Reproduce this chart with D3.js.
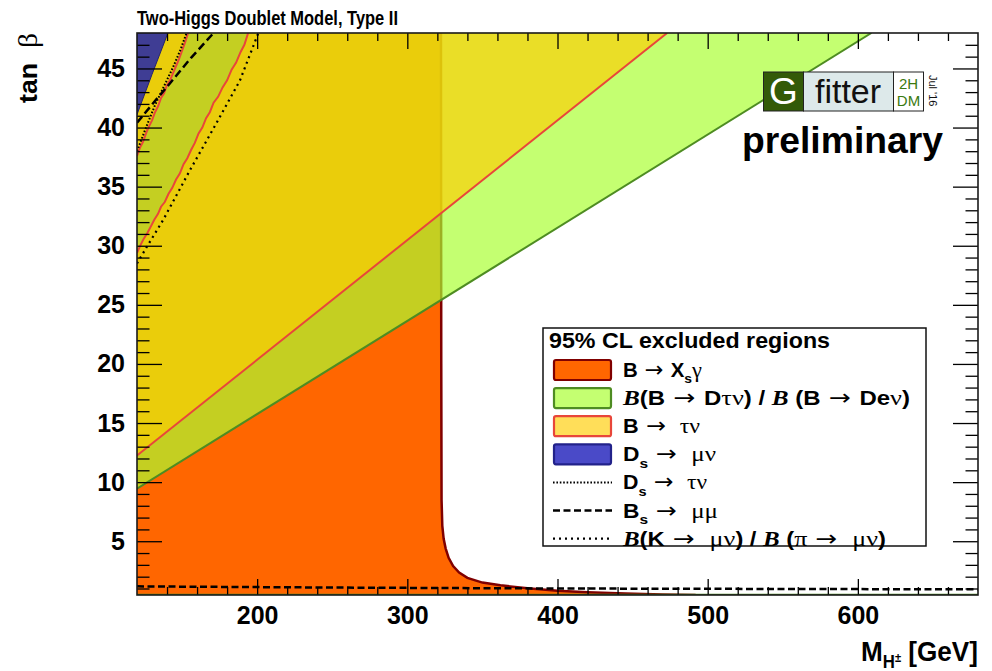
<!DOCTYPE html>
<html>
<head>
<meta charset="utf-8">
<script src="https://cdn.jsdelivr.net/npm/d3@7/dist/d3.min.js"></script>
<style>
  html, body { margin: 0; padding: 0; background: #fff; }
  svg { display: block; }
  text { white-space: pre; }
</style>
</head>
<body>
<svg id="chart" width="992" height="671"></svg>
<script>
// ---------------- data ----------------
// axis ticks
const xMajorTicks = [200, 300, 400, 500, 600];
const yMajorTicks = [5, 10, 15, 20, 25, 30, 35, 40, 45];

// B -> Xs gamma: excluded for M below this boundary (charged Higgs mass in GeV, tan beta)
const bsgMass = [322.4, 322.6, 322.8, 323.3, 324.2, 325.5, 327.5, 330.5, 334.5, 340, 350, 362, 380, 400, 420, 445, 470, 492];
const bsgTanb = [48, 20, 8.5, 6.3, 5.2, 4.4, 3.6, 2.9, 2.35, 1.9, 1.5, 1.27, 1.02, 0.8, 0.68, 0.58, 0.5, 0.45];

// B(B -> D tau nu) / B(B -> D e nu): excluded above this line, and below the low-tan beta edge
const bdtnMass = [120, 609];
const bdtnTanb = [9.45, 48];
const bdtnLowMass = [120, 680];
const bdtnLowTanb = [0.5, 0.5];

// B -> tau nu: excluded above the straight edge, except the strip between the two wavy edges
const btnLowMass = [120, 473];
const btnLowTanb = [12.25, 48];
const btnStripLeftMass = [120, 122, 124, 126, 128, 130, 132, 134, 136, 138, 140, 142, 144, 146, 148, 150, 152, 154];
const btnStripLeftTanb = [37.6, 38.3, 38.8, 39.5, 40.1, 40.6, 41.3, 41.8, 42.5, 42.9, 43.6, 44.0, 44.6, 45.2, 45.8, 46.5, 47.2, 48];
const btnStripRightMass = [120, 122.5, 124.5, 127, 129.5, 131.5, 134, 136, 138.5, 141, 143.5, 146, 148.5, 151, 153.5, 156, 158.5, 161, 163.5, 166, 168.5, 171, 174, 177, 180, 183, 186, 189, 191.5, 194];
const btnStripRightTanb = [29.4, 30.1, 30.6, 31.1, 31.7, 32.2, 32.7, 33.3, 33.7, 34.4, 34.9, 35.6, 36.1, 36.9, 37.4, 38.1, 38.7, 39.5, 40.0, 40.8, 41.3, 42.1, 42.6, 43.4, 44.0, 44.9, 45.5, 46.4, 47.0, 48];

// Ds -> mu nu: excluded above this edge
const dsmnMass = [120, 130, 140.6];
const dsmnTanb = [41.1, 44.5, 48];

// Ds -> tau nu edge
const dstnMass = [120, 126, 132, 138, 144, 149, 153];
const dstnTanb = [38.0, 40.0, 41.9, 43.5, 45.1, 46.6, 48];

// Bs -> mu mu edges (high and low tan beta)
const bsmmHighMass = [120, 131, 142, 156, 171];
const bsmmHighTanb = [40.4, 42.1, 43.75, 45.9, 48];
const bsmmLowMass = [120, 250, 400, 550, 680];
const bsmmLowTanb = [1.18, 1.08, 1.0, 0.96, 0.93];

// B(K -> mu nu) / B(pi -> mu nu) edge
const kmnMass = [120, 126.5, 137.5, 155.3, 173, 188.6, 200.8];
const kmnTanb = [28.5, 29.9, 32.2, 36.4, 40.4, 44.0, 48];

// text
const titleText = "Two-Higgs Doublet Model, Type II";
const legendHeader = "95% CL excluded regions";
const ARROW = {t: " \u2192 ", f: "arrow"};
const legendLabels = [
  [{t: "B"}, ARROW, {t: "X"}, {t: "s", sub: true}, {t: "\u03b3", f: "serif"}],
  [{t: "B", f: "bi"}, {t: "(B"}, ARROW, {t: "D"}, {t: "\u03c4\u03bd", f: "serif"}, {t: ") / "}, {t: "B", f: "bi"}, {t: " (B"}, ARROW, {t: "De"}, {t: "\u03bd", f: "serif"}, {t: ")"}],
  [{t: "B"}, ARROW, {t: " \u03c4\u03bd", f: "serif"}],
  [{t: "D"}, {t: "s", sub: true}, ARROW, {t: " \u03bc\u03bd", f: "serif"}],
  [{t: "D"}, {t: "s", sub: true}, ARROW, {t: " \u03c4\u03bd", f: "serif"}],
  [{t: "B"}, {t: "s", sub: true}, ARROW, {t: " \u03bc\u03bc", f: "serif"}],
  [{t: "B", f: "bi"}, {t: "(K"}, ARROW, {t: " \u03bc\u03bd", f: "serif"}, {t: ") / "}, {t: "B", f: "bi"}, {t: " ("}, {t: "\u03c0", f: "serif"}, ARROW, {t: " \u03bc\u03bd", f: "serif"}, {t: ")"}]
];

// ---------------- drawing ----------------
const SANS = "'Liberation Sans', Arial, Helvetica, sans-serif";
const SERIF = "'Liberation Serif', 'Times New Roman', 'DejaVu Serif', serif";
const ARROWFONT = "'DejaVu Sans', sans-serif";

const COL = {
  orange: "#ff6600", orangeEdge: "#800000",
  green: "rgb(170,255,49)", greenOpacity: 0.69, greenEdge: "#4e8c22",
  yellow: "rgb(255,204,0)", yellowOpacity: 0.65, redEdge: "#e8463a",
  blue: "#3f3d94", blueEdge: "#25236e", blueKey: "#4a4ac8"
};

const svg = d3.select("#chart");
const x = d3.scaleLinear().domain([120, 680]).range([137, 978]);
const y = d3.scaleLinear().domain([0.45, 48]).range([595, 33]);
const [x0, x1] = x.range();
const [yB, yT] = y.range();
const [mMin, mMax] = x.domain();
const [tMin, tMax] = y.domain();

const zipPts = (ms, ts) => ms.map((m, i) => [m, ts[i]]);
const line = d3.line().x(d => x(d[0])).y(d => y(d[1]));

svg.append("defs").append("clipPath").attr("id", "plotclip")
  .append("rect").attr("x", x0).attr("y", yT).attr("width", x1 - x0).attr("height", yB - yT);
const plot = svg.append("g").attr("clip-path", "url(#plotclip)");

// B -> Xs gamma region
const bsgPts = zipPts(bsgMass, bsgTanb);
plot.append("path").attr("d", line([[mMin, tMin], [mMin, tMax], ...bsgPts]) + "Z").attr("fill", COL.orange);
plot.append("path").attr("d", line(bsgPts)).attr("fill", "none")
  .attr("stroke", COL.orangeEdge).attr("stroke-width", 2.5);

// B -> D tau nu region
const bdtnPts = zipPts(bdtnMass, bdtnTanb);
plot.append("path").attr("d", line([...bdtnPts, [mMin, tMax]]) + "Z")
  .attr("fill", COL.green).attr("fill-opacity", COL.greenOpacity);
plot.append("path").attr("d", line(bdtnPts)).attr("fill", "none")
  .attr("stroke", COL.greenEdge).attr("stroke-width", 2);
plot.append("path").attr("d", line(zipPts(bdtnLowMass, bdtnLowTanb))).attr("fill", "none")
  .attr("stroke", COL.greenEdge).attr("stroke-width", 1.5);

// B -> tau nu region (two pieces around the allowed strip)
const btnLow = zipPts(btnLowMass, btnLowTanb);
const stripL = zipPts(btnStripLeftMass, btnStripLeftTanb);
const stripR = zipPts(btnStripRightMass, btnStripRightTanb);
const yellowD = line([...stripR, ...btnLow.slice().reverse()]) + "Z" + line([...stripL, [mMin, tMax]]) + "Z";
plot.append("path").attr("d", yellowD).attr("fill", COL.yellow).attr("fill-opacity", COL.yellowOpacity);
[btnLow, stripL, stripR].forEach(p => plot.append("path").attr("d", line(p)).attr("fill", "none")
  .attr("stroke", COL.redEdge).attr("stroke-width", 2));

// Ds -> mu nu region
const dsmnPts = zipPts(dsmnMass, dsmnTanb);
plot.append("path").attr("d", line([...dsmnPts, [mMin, tMax]]) + "Z")
  .attr("fill", COL.blue).attr("stroke", COL.blueEdge).attr("stroke-width", 1);

// contour lines
plot.append("path").attr("d", line(zipPts(dstnMass, dstnTanb))).attr("fill", "none")
  .attr("stroke", "#000").attr("stroke-width", 2).attr("stroke-dasharray", "1.6,1.8");
plot.append("path").attr("d", line(zipPts(bsmmHighMass, bsmmHighTanb))).attr("fill", "none")
  .attr("stroke", "#000").attr("stroke-width", 2.5).attr("stroke-dasharray", "8,4");
plot.append("path").attr("d", line(zipPts(bsmmLowMass, bsmmLowTanb))).attr("fill", "none")
  .attr("stroke", "#000").attr("stroke-width", 2.5).attr("stroke-dasharray", "7,3.5");
plot.append("path").attr("d", line(zipPts(kmnMass, kmnTanb))).attr("fill", "none")
  .attr("stroke", "#000").attr("stroke-width", 2.2).attr("stroke-dasharray", "2,4");

// ---------------- axes ----------------
const xMinorTicks = d3.range(140, 680, 20).filter(v => !xMajorTicks.includes(v));
const yMinorTicks = d3.range(1, 48).filter(v => !yMajorTicks.includes(v));

function styleAxis(g) {
  g.select(".domain").remove();
  g.selectAll("line").attr("stroke", "#000").attr("stroke-width", 1.3);
  g.selectAll("text").attr("font-family", SANS).attr("font-weight", "bold")
    .attr("font-size", 25).attr("fill", "#000");
}
const axG = svg.append("g");
axG.append("g").attr("transform", `translate(0,${yB})`)
  .call(d3.axisBottom(x).tickValues(xMajorTicks).tickSizeInner(-16).tickSizeOuter(0).tickPadding(11))
  .call(styleAxis);
axG.append("g").attr("transform", `translate(0,${yB})`)
  .call(d3.axisBottom(x).tickValues(xMinorTicks).tickSize(-8).tickFormat(""))
  .call(styleAxis);
axG.append("g").attr("transform", `translate(0,${yT})`)
  .call(d3.axisTop(x).tickValues(xMajorTicks).tickSize(-16).tickFormat(""))
  .call(styleAxis);
axG.append("g").attr("transform", `translate(0,${yT})`)
  .call(d3.axisTop(x).tickValues(xMinorTicks).tickSize(-8).tickFormat(""))
  .call(styleAxis);
axG.append("g").attr("transform", `translate(${x0},0)`)
  .call(d3.axisLeft(y).tickValues(yMajorTicks).tickSizeInner(-25).tickSizeOuter(0).tickPadding(12))
  .call(styleAxis);
axG.append("g").attr("transform", `translate(${x0},0)`)
  .call(d3.axisLeft(y).tickValues(yMinorTicks).tickSize(-12.5).tickFormat(""))
  .call(styleAxis);
axG.append("g").attr("transform", `translate(${x1},0)`)
  .call(d3.axisRight(y).tickValues(yMajorTicks).tickSize(-25).tickFormat(""))
  .call(styleAxis);
axG.append("g").attr("transform", `translate(${x1},0)`)
  .call(d3.axisRight(y).tickValues(yMinorTicks).tickSize(-12.5).tickFormat(""))
  .call(styleAxis);

svg.append("rect").attr("x", x0).attr("y", yT).attr("width", x1 - x0).attr("height", yB - yT)
  .attr("fill", "none").attr("stroke", "#1a1a1a").attr("stroke-width", 1.6);

// ---------------- text helpers ----------------
function rich(parent, segs, size) {
  const t = parent.append("text").attr("font-size", size).attr("fill", "#000")
    .attr("font-family", SANS).attr("font-weight", "bold");
  let shift = 0;
  segs.forEach(s => {
    const ts = t.append("tspan").text(s.t);
    if (s.f === "serif") ts.attr("font-family", SERIF).attr("font-weight", "normal").attr("font-size", size * 1.1);
    if (s.f === "arrow") ts.attr("font-family", ARROWFONT).attr("font-weight", "normal").attr("font-size", size * 1.1);
    if (s.f === "bi") ts.attr("font-family", SERIF).attr("font-style", "italic").attr("font-size", size * 1.05);
    if (s.sub) ts.attr("font-size", s.subSize || size * 0.68);
    const target = s.sub ? (s.subShift !== undefined ? s.subShift : size * 0.32) : 0;
    if (target !== shift) { ts.attr("dy", target - shift); shift = target; }
  });
  return t;
}

// title
svg.append("text").attr("x", 137).attr("y", 25).text(titleText)
  .attr("font-family", SANS).attr("font-weight", "bold").attr("font-size", 19.5)
  .attr("textLength", 261).attr("lengthAdjust", "spacingAndGlyphs");

// y title
const yt = rich(svg.append("g").attr("transform", "translate(37,33) rotate(-90)"),
  [{t: "tan  "}, {t: "\u03b2", f: "serif"}], 25);
yt.attr("text-anchor", "end").attr("textLength", 70).attr("lengthAdjust", "spacingAndGlyphs");

// x title
const xt = rich(svg.append("g").attr("transform", "translate(978,661)"),
  [{t: "M"}, {t: "H", sub: true, subSize: 18, subShift: 7}, {t: "\u00b1", sub: true, subSize: 12, subShift: 1}, {t: " [GeV]"}], 28);
xt.attr("text-anchor", "end").attr("textLength", 117).attr("lengthAdjust", "spacingAndGlyphs");

// ---------------- legend ----------------
const lg = svg.append("g");
lg.append("rect").attr("x", 543).attr("y", 328).attr("width", 383).attr("height", 218)
  .attr("fill", "#fff").attr("stroke", "#111").attr("stroke-width", 1.5);
lg.append("text").attr("x", 549).attr("y", 348).text(legendHeader)
  .attr("font-family", SANS).attr("font-weight", "bold").attr("font-size", 22)
  .attr("textLength", 281).attr("lengthAdjust", "spacingAndGlyphs");

const legendKeys = [
  {type: "box", fill: COL.orange, op: 1, stroke: COL.orangeEdge},
  {type: "box", fill: COL.green, op: COL.greenOpacity, stroke: COL.greenEdge},
  {type: "box", fill: COL.yellow, op: COL.yellowOpacity, stroke: COL.redEdge},
  {type: "box", fill: COL.blueKey, op: 1, stroke: "#22228a"},
  {type: "line", dash: "1.6,1.8", w: 2},
  {type: "line", dash: "7,3.5", w: 2.5},
  {type: "line", dash: "2,4", w: 2.2}
];
const rowTextWidths = [79, 287, 77, 93, 84, 95, 263];
legendLabels.forEach((segs, i) => {
  const cy = 370 + i * 28.1;
  const k = legendKeys[i];
  if (k.type === "box") {
    lg.append("rect").attr("x", 554).attr("y", cy - 10).attr("width", 57).attr("height", 20).attr("rx", 2)
      .attr("fill", k.fill).attr("fill-opacity", k.op).attr("stroke", k.stroke).attr("stroke-width", 2.2);
  } else {
    lg.append("line").attr("x1", 553).attr("x2", 612).attr("y1", cy).attr("y2", cy)
      .attr("stroke", "#000").attr("stroke-width", k.w).attr("stroke-dasharray", k.dash);
  }
  const t = rich(lg.append("g").attr("transform", `translate(623,${cy + 7})`), segs, 20);
  t.attr("textLength", rowTextWidths[i]).attr("lengthAdjust", "spacingAndGlyphs");
});

// ---------------- Gfitter logo ----------------
const logo = svg.append("g").attr("transform", "translate(763.5,72)");
logo.append("rect").attr("x", 0).attr("y", 0).attr("width", 40).attr("height", 39)
  .attr("fill", "#335a08").attr("stroke", "#222").attr("stroke-width", 1);
logo.append("rect").attr("x", 40).attr("y", 0).attr("width", 90).attr("height", 39)
  .attr("fill", "#dde9ea").attr("stroke", "#222").attr("stroke-width", 1);
logo.append("rect").attr("x", 130).attr("y", 0).attr("width", 30).attr("height", 39)
  .attr("fill", "#fff").attr("stroke", "#222").attr("stroke-width", 1);
logo.append("text").attr("x", 20).attr("y", 32).attr("text-anchor", "middle").text("G")
  .attr("font-family", SANS).attr("font-size", 37).attr("fill", "#fff");
logo.append("text").attr("x", 84.5).attr("y", 31).attr("text-anchor", "middle").text("fitter")
  .attr("font-family", SANS).attr("font-size", 34).attr("fill", "#111");
logo.append("text").attr("x", 145).attr("y", 17).attr("text-anchor", "middle").text("2H")
  .attr("font-family", SANS).attr("font-size", 15).attr("fill", "#3a7a10");
logo.append("text").attr("x", 145).attr("y", 34).attr("text-anchor", "middle").text("DM")
  .attr("font-family", SANS).attr("font-size", 15).attr("fill", "#3a7a10");
logo.append("text").attr("transform", "translate(165,3) rotate(90)").text("Jul '16")
  .attr("font-family", SANS).attr("font-size", 11).attr("fill", "#111");

svg.append("text").attr("x", 742).attr("y", 153).text("preliminary")
  .attr("font-family", SANS).attr("font-weight", "bold").attr("font-size", 36)
  .attr("textLength", 201).attr("lengthAdjust", "spacingAndGlyphs");
</script>
</body>
</html>
